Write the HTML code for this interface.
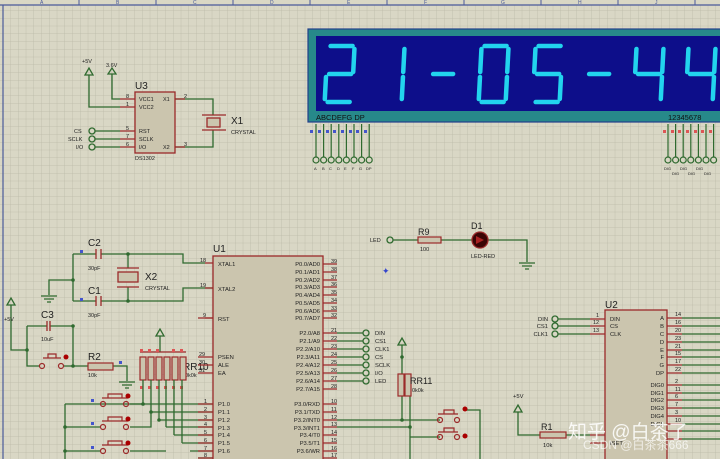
<!DOCTYPE html><html><head><meta charset="utf-8"><style>
html,body{margin:0;padding:0;width:720px;height:459px;overflow:hidden;background:#d9d7c5}
svg{display:block}
text{font-family:"Liberation Sans","Noto Sans CJK SC",sans-serif}
</style></head><body>
<svg width="720" height="459" viewBox="0 0 720 459" xmlns="http://www.w3.org/2000/svg">
<defs>
<pattern id="g" width="7.75" height="7.75" patternUnits="userSpaceOnUse" x="3" y="3">
<path d="M7.75 0V7.75H0" fill="none" stroke="#bcbaa8" stroke-width="0.8"/></pattern>
<g id="seg"></g>
</defs>
<rect width="720" height="459" fill="#d9d7c5"/>
<rect width="720" height="459" fill="url(#g)"/>
<!-- rulers -->
<rect x="0" y="0" width="720" height="5" fill="#d9d7c5"/>
<line x1="0" y1="5" x2="720" y2="5" stroke="#4a5a9a" stroke-width="1.2"/>
<line x1="3" y1="5" x2="3" y2="459" stroke="#4a5a9a" stroke-width="1.2"/>
<g stroke="#4a5a9a" stroke-width="1"><line x1="79" y1="0" x2="79" y2="5"/><line x1="156" y1="0" x2="156" y2="5"/><line x1="233" y1="0" x2="233" y2="5"/><line x1="310" y1="0" x2="310" y2="5"/><line x1="387" y1="0" x2="387" y2="5"/><line x1="464" y1="0" x2="464" y2="5"/><line x1="541" y1="0" x2="541" y2="5"/><line x1="618" y1="0" x2="618" y2="5"/><line x1="695" y1="0" x2="695" y2="5"/></g>
<g font-size="5" fill="#4a5a9a"><text x="40" y="4">A</text><text x="116" y="4">B</text><text x="193" y="4">C</text><text x="270" y="4">D</text><text x="347" y="4">E</text><text x="424" y="4">F</text><text x="501" y="4">G</text><text x="578" y="4">H</text><text x="655" y="4">J</text></g>

<!-- ===== U3 DS1302 ===== -->
<g stroke="#2f6a2f" stroke-width="1.3" fill="none">
<path d="M89 75V107H120"/><path d="M112 74V99H120"/>
<path d="M95 131H120M95 139H120M95 147H120"/>
<path d="M175 99H213V115M175 147H213V130"/>
</g>
<g stroke="#2f6a2f" stroke-width="1.3" fill="none"><path d="M85 75L89 68L93 75Z"/><path d="M108 74L112 68L116 74Z"/>
<circle cx="92" cy="131" r="3"/><circle cx="92" cy="139" r="3"/><circle cx="92" cy="147" r="3"/></g>
<g stroke="#9b2a2a" stroke-width="1.2"><path d="M120 99H135M120 107H135M120 131H135M120 139H135M120 147H135M175 99H185M175 147H185"/></g>
<rect x="135" y="92" width="40" height="61" fill="#cbc5ae" stroke="#9b2a2a" stroke-width="1.3"/>
<g font-size="5.5" fill="#222"><text x="139" y="101">VCC1</text><text x="139" y="109">VCC2</text><text x="139" y="133">RST</text><text x="139" y="141">SCLK</text><text x="139" y="149">I/O</text><text x="163" y="101">X1</text><text x="163" y="149">X2</text>
<text x="126" y="98">8</text><text x="126" y="106">1</text><text x="126" y="130">5</text><text x="126" y="138">7</text><text x="126" y="146">6</text><text x="184" y="98">2</text><text x="184" y="146">3</text>
<text x="82" y="63">+5V</text><text x="106" y="67">3.6V</text><text x="74" y="133">CS</text><text x="68" y="141">SCLK</text><text x="76" y="149">I/O</text><text x="135" y="160">DS1302</text><text x="231" y="134">CRYSTAL</text></g>
<text x="135" y="89" font-size="10" fill="#222">U3</text><text x="231" y="124" font-size="10" fill="#222">X1</text>
<g stroke="#9b2a2a" stroke-width="1.3"><path d="M202 115H226M202 130H226"/></g>
<rect x="207" y="118" width="13" height="9" fill="#cbc5ae" stroke="#9b2a2a" stroke-width="1.3"/>

<!-- ===== DISPLAY ===== -->
<rect x="308" y="29" width="414" height="93" fill="#27898a" stroke="#233f8a" stroke-width="1.2"/>
<rect x="316" y="36" width="406" height="75" fill="#0d0e8a"/>
<g stroke="#22d4ee" stroke-width="4.5" stroke-linecap="round" fill="none" transform="skewX(-3)">
<!-- 2 -->
<g transform="translate(330,46)"><path d="M3 0H25M27 3V26M3 28H25M0 31V53M3 56H25"/></g>
<!-- 1 -->
<g transform="translate(380,46)"><path d="M27 3V26M27 31V53"/></g>
<!-- - -->
<g transform="translate(434,46)"><path d="M3 28H23"/></g>
<!-- 0 -->
<g transform="translate(484,46)"><path d="M3 0H25M27 3V26M27 31V53M3 56H25M0 31V53M0 3V26"/></g>
<!-- 5 -->
<g transform="translate(538,46)"><path d="M3 0H25M0 3V26M3 28H25M27 31V53M3 56H25"/></g>
<!-- - -->
<g transform="translate(590,46)"><path d="M3 28H23"/></g>
<!-- 4 -->
<g transform="translate(639,46)"><path d="M0 3V26M3 28H25M27 3V26M27 31V53"/></g>
<g transform="translate(691,46)"><path d="M0 3V26M3 28H25M27 3V26M27 31V53"/></g>
</g>
<text x="316" y="120" font-size="7.5" fill="#111">ABCDEFG DP</text>
<text x="668" y="120" font-size="7.5" fill="#111">12345678</text>
<g stroke="#2f6a2f" stroke-width="1.2" fill="none">
<path d="M316 124V157M323.6 124V157M331.2 124V157M338.8 124V157M346.4 124V157M354 124V157M361.6 124V157M369.2 124V157"/>
<circle cx="316" cy="160" r="3"/><circle cx="323.6" cy="160" r="3"/><circle cx="331.2" cy="160" r="3"/><circle cx="338.8" cy="160" r="3"/><circle cx="346.4" cy="160" r="3"/><circle cx="354" cy="160" r="3"/><circle cx="361.6" cy="160" r="3"/><circle cx="369.2" cy="160" r="3"/>
<path d="M668 124V157M675.6 124V157M683.2 124V157M690.8 124V157M698.4 124V157M706 124V157M713.6 124V157"/>
<circle cx="668" cy="160" r="3"/><circle cx="675.6" cy="160" r="3"/><circle cx="683.2" cy="160" r="3"/><circle cx="690.8" cy="160" r="3"/><circle cx="698.4" cy="160" r="3"/><circle cx="706" cy="160" r="3"/><circle cx="713.6" cy="160" r="3"/>
</g>
<g fill="#4455cc"><rect x="310" y="130" width="3" height="3"/><rect x="318" y="130" width="3" height="3"/><rect x="326" y="130" width="3" height="3"/><rect x="333" y="130" width="3" height="3"/><rect x="341" y="130" width="3" height="3"/><rect x="349" y="130" width="3" height="3"/><rect x="356" y="130" width="3" height="3"/><rect x="364" y="130" width="3" height="3"/></g>
<g fill="#dd5555"><rect x="663" y="130" width="3" height="3"/><rect x="671" y="130" width="3" height="3"/><rect x="678" y="130" width="3" height="3"/><rect x="686" y="130" width="3" height="3"/><rect x="694" y="130" width="3" height="3"/><rect x="701" y="130" width="3" height="3"/><rect x="709" y="130" width="3" height="3"/></g>
<g font-size="4" fill="#222"><text x="314" y="170">A</text><text x="322" y="170">B</text><text x="329" y="170">C</text><text x="337" y="170">D</text><text x="344" y="170">E</text><text x="352" y="170">F</text><text x="359" y="170">G</text><text x="366" y="170">DP</text>
<text x="664" y="170">DIG</text><text x="672" y="175">DIG</text><text x="680" y="170">DIG</text><text x="688" y="175">DIG</text><text x="696" y="170">DIG</text><text x="704" y="175">DIG</text></g>

<!-- ===== LED / R9 ===== -->
<g stroke="#2f6a2f" stroke-width="1.3" fill="none"><circle cx="390" cy="240" r="3"/><path d="M393 240H418M441 240H472M488 240H527V262"/><path d="M519 263H535M522 266H532M525 269H529"/></g>
<rect x="418" y="237" width="23" height="6" fill="#cbc5ae" stroke="#9b2a2a" stroke-width="1.2"/>
<circle cx="480" cy="240" r="8" fill="#3a0505" stroke="#9b2a2a" stroke-width="1.3"/><path d="M476 236V244L484 240Z" fill="#aa2222"/>
<g font-size="5.5" fill="#222"><text x="370" y="242">LED</text><text x="420" y="251">100</text><text x="471" y="258">LED-RED</text></g>
<g font-size="9" fill="#222"><text x="418" y="235">R9</text><text x="471" y="229">D1</text></g>
<text x="382" y="274" font-size="9" fill="#3344cc">✦</text>

<!-- ===== C2/C1/X2 ===== -->
<g stroke="#2f6a2f" stroke-width="1.3" fill="none">
<path d="M73 254H96M101 254H183V263H205"/>
<path d="M73 301H96M101 301H183V288H213"/>
<path d="M73 254V301M73 280H49V295"/><path d="M41 296H57M44 299H54M47 302H51"/>
<path d="M128 254V268M128 287V301"/>
<path d="M11 305V350H27M27 326H47M50 326H73V366M27 326V366H40M64 366H88M113 366H127V381"/><path d="M119 382H135M122 385H132M125 388H129"/>
<path d="M160 336V352"/>
</g>
<g stroke="#2f6a2f" stroke-width="1.3" fill="none"><path d="M7 305L11 298L15 305Z"/><path d="M156 336L160 329L164 336Z"/></g>
<g stroke="#9b2a2a" stroke-width="1.3"><path d="M96 249V259M101 249V259M96 296V306M101 296V306M47 321V331M50 321V331M117 268H139M117 287H139M205 263H213M205 288H213M205 318H213"/></g>
<rect x="118" y="272" width="20" height="10" fill="#cbc5ae" stroke="#9b2a2a" stroke-width="1.3"/>
<g font-size="10" fill="#222"><text x="88" y="246">C2</text><text x="88" y="294">C1</text><text x="41" y="318">C3</text><text x="145" y="280">X2</text><text x="88" y="360">R2</text><text x="183" y="370">RR10</text><text x="213" y="252">U1</text></g>
<g font-size="5.5" fill="#222"><text x="88" y="270">30pF</text><text x="88" y="317">30pF</text><text x="41" y="341">10uF</text><text x="145" y="290">CRYSTAL</text><text x="88" y="377">10k</text><text x="185" y="377">0k0k</text><text x="4" y="321">+5V</text></g>
<rect x="88" y="363" width="25" height="7" fill="#cbc5ae" stroke="#9b2a2a" stroke-width="1.2"/>
<!-- button near C3 -->
<g stroke="#9b2a2a" stroke-width="1.2" fill="none"><path d="M43 358H61M48 358V354H56V358"/><circle cx="42" cy="366" r="2.5"/><circle cx="61" cy="366" r="2.5"/></g>
<circle cx="66" cy="357" r="2.5" fill="#a00"/>
<!-- RR10 pack -->
<g fill="#cbc5ae" stroke="#9b2a2a" stroke-width="1.2"><rect x="140" y="357" width="6" height="23"/><rect x="148" y="357" width="6" height="23"/><rect x="156" y="357" width="6" height="23"/><rect x="164" y="357" width="6" height="23"/><rect x="172" y="357" width="6" height="23"/><rect x="180" y="357" width="6" height="23"/></g>
<path d="M140 352H186" stroke="#9b2a2a" stroke-width="1.2"/>
<g fill="#dd5555"><rect x="140" y="349" width="3" height="3"/><rect x="148" y="349" width="3" height="3"/><rect x="156" y="349" width="3" height="3"/><rect x="172" y="349" width="3" height="3"/><rect x="180" y="349" width="3" height="3"/><rect x="140" y="386" width="3" height="3"/><rect x="148" y="386" width="3" height="3"/><rect x="156" y="386" width="3" height="3"/><rect x="164" y="386" width="3" height="3"/><rect x="172" y="386" width="3" height="3"/><rect x="180" y="386" width="3" height="3"/></g>
<g stroke="#2f6a2f" stroke-width="1.3" fill="none">
<path d="M143 380V404M151 380V412M159 380V420M166 380V427M174 380V435M182 380V443"/>
<path d="M65 404H213M151 412H213M159 420H213M166 427H213M174 435H213M182 443H213M190 451H213M198 458H213"/>
<path d="M65 404V459M65 427H100M65 451H100M130 404H143M130 427H151V412M130 451H166"/>
</g>
<g fill="#2f6a2f"><circle cx="143" cy="404" r="1.8"/><circle cx="151" cy="412" r="1.8"/><circle cx="159" cy="420" r="1.8"/><circle cx="65" cy="427" r="1.8"/><circle cx="65" cy="451" r="1.8"/><circle cx="73" cy="326" r="1.8"/><circle cx="73" cy="366" r="1.8"/><circle cx="27" cy="350" r="1.8"/><circle cx="73" cy="280" r="1.8"/><circle cx="128" cy="254" r="1.8"/><circle cx="128" cy="301" r="1.8"/></g>
<g stroke="#9b2a2a" stroke-width="1.2" fill="none">
<path d="M102 398H128M108 398V394H122V398"/><circle cx="103" cy="404" r="2.5"/><circle cx="126" cy="404" r="2.5"/>
<path d="M102 421H128M108 421V417H122V421"/><circle cx="103" cy="427" r="2.5"/><circle cx="126" cy="427" r="2.5"/>
<path d="M102 445H128M108 445V441H122V445"/><circle cx="103" cy="451" r="2.5"/><circle cx="126" cy="451" r="2.5"/>
</g>
<g fill="#a00"><circle cx="128" cy="396" r="2.5"/><circle cx="128" cy="419" r="2.5"/><circle cx="128" cy="443" r="2.5"/></g>
<g fill="#4455cc"><rect x="91" y="399" width="3" height="3"/><rect x="91" y="422" width="3" height="3"/><rect x="91" y="446" width="3" height="3"/><rect x="80" y="250" width="3" height="3"/><rect x="80" y="298" width="3" height="3"/><rect x="119" y="361" width="3" height="3"/></g>

<!-- ===== U1 ===== -->
<g stroke="#9b2a2a" stroke-width="1.2">
<path d="M198 318H213M198 357H213M198 365H213M198 373H213M198 404H213M198 412H213M198 420H213M198 427H213M198 435H213M198 443H213M198 451H213M198 458H213"/>
<path d="M323 264H337M323 272H337M323 280H337M323 287H337M323 295H337M323 303H337M323 311H337M323 318H337"/>
<path d="M323 333H337M323 341H337M323 349H337M323 357H337M323 365H337M323 373H337M323 381H337M323 389H337"/>
<path d="M323 404H337M323 412H337M323 420H337M323 427H337M323 435H337M323 443H337M323 451H337M323 458H337"/>
</g>
<rect x="213" y="256" width="110" height="210" fill="#cbc5ae" stroke="#9b2a2a" stroke-width="1.3"/>
<g font-size="5.8" fill="#222">
<text x="218" y="266">XTAL1</text><text x="218" y="291">XTAL2</text><text x="218" y="321">RST</text><text x="218" y="359">PSEN</text><text x="218" y="367">ALE</text><text x="218" y="375">EA</text>
<text x="218" y="406">P1.0</text><text x="218" y="414">P1.1</text><text x="218" y="422">P1.2</text><text x="218" y="430">P1.3</text><text x="218" y="437">P1.4</text><text x="218" y="445">P1.5</text><text x="218" y="453">P1.6</text>
<g text-anchor="end"><text x="320" y="266">P0.0/AD0</text><text x="320" y="274">P0.1/AD1</text><text x="320" y="282">P0.2/AD2</text><text x="320" y="289">P0.3/AD3</text><text x="320" y="297">P0.4/AD4</text><text x="320" y="305">P0.5/AD5</text><text x="320" y="313">P0.6/AD6</text><text x="320" y="320">P0.7/AD7</text>
<text x="320" y="335">P2.0/A8</text><text x="320" y="343">P2.1/A9</text><text x="320" y="351">P2.2/A10</text><text x="320" y="359">P2.3/A11</text><text x="320" y="367">P2.4/A12</text><text x="320" y="375">P2.5/A13</text><text x="320" y="383">P2.6/A14</text><text x="320" y="391">P2.7/A15</text>
<text x="320" y="406">P3.0/RXD</text><text x="320" y="414">P3.1/TXD</text><text x="320" y="422">P3.2/INT0</text><text x="320" y="430">P3.3/INT1</text><text x="320" y="437">P3.4/T0</text><text x="320" y="445">P3.5/T1</text><text x="320" y="453">P3.6/WR</text></g>
<g font-size="5.5"><text x="200" y="262">18</text><text x="200" y="287">19</text><text x="203" y="317">9</text><text x="199" y="356">29</text><text x="199" y="364">30</text><text x="199" y="372">31</text>
<text x="204" y="403">1</text><text x="204" y="411">2</text><text x="204" y="419">3</text><text x="204" y="426">4</text><text x="204" y="434">5</text><text x="204" y="442">6</text><text x="204" y="450">7</text><text x="204" y="457">8</text>
<text x="331" y="263">39</text><text x="331" y="271">38</text><text x="331" y="279">37</text><text x="331" y="286">36</text><text x="331" y="294">35</text><text x="331" y="302">34</text><text x="331" y="310">33</text><text x="331" y="317">32</text>
<text x="331" y="332">21</text><text x="331" y="340">22</text><text x="331" y="348">23</text><text x="331" y="356">24</text><text x="331" y="364">25</text><text x="331" y="372">26</text><text x="331" y="380">27</text><text x="331" y="388">28</text>
<text x="331" y="403">10</text><text x="331" y="411">11</text><text x="331" y="419">12</text><text x="331" y="426">13</text><text x="331" y="434">14</text><text x="331" y="442">15</text><text x="331" y="450">16</text><text x="331" y="457">17</text></g>
</g>
<!-- P2 terminals -->
<g stroke="#2f6a2f" stroke-width="1.3" fill="none">
<path d="M337 333H363M337 341H363M337 349H363M337 357H363M337 365H363M337 373H363M337 381H363"/>
<circle cx="366" cy="333" r="3"/><circle cx="366" cy="341" r="3"/><circle cx="366" cy="349" r="3"/><circle cx="366" cy="357" r="3"/><circle cx="366" cy="365" r="3"/><circle cx="366" cy="373" r="3"/><circle cx="366" cy="381" r="3"/>
<path d="M337 420H440M337 427H410V459M402 345V420M410 382V437H440M465 410H480V459"/>
<path d="M398 345L402 338L406 345Z"/>
</g>
<g font-size="5.8" fill="#222"><text x="375" y="335">DIN</text><text x="375" y="343">CS1</text><text x="375" y="351">CLK1</text><text x="375" y="359">CS</text><text x="375" y="367">SCLK</text><text x="375" y="375">I/O</text><text x="375" y="383">LED</text></g>
<!-- RR11 -->
<g fill="#cbc5ae" stroke="#9b2a2a" stroke-width="1.2"><rect x="398" y="374" width="6" height="22"/><rect x="405" y="374" width="6" height="22"/></g>
<text x="410" y="384" font-size="9" fill="#222">RR11</text><text x="412" y="392" font-size="5.5" fill="#222">0k0k</text>
<g fill="#2f6a2f"><circle cx="402" cy="357" r="1.8"/><circle cx="402" cy="420" r="1.8"/><circle cx="410" cy="427" r="1.8"/></g>
<g stroke="#9b2a2a" stroke-width="1.2" fill="none">
<path d="M438 414H458M444 414V410H454V414"/><circle cx="440" cy="420" r="2.5"/><circle cx="457" cy="420" r="2.5"/>
<path d="M438 432H458M444 432V428H454V432"/><circle cx="440" cy="437" r="2.5"/><circle cx="457" cy="437" r="2.5"/>
</g>
<g fill="#a00"><circle cx="465" cy="409" r="2.5"/><circle cx="465" cy="436" r="2.5"/></g>

<!-- ===== U2 ===== -->
<g stroke="#2f6a2f" stroke-width="1.3" fill="none">
<circle cx="555" cy="319" r="3"/><circle cx="555" cy="326" r="3"/><circle cx="555" cy="334" r="3"/>
<path d="M558 319H590M558 326H590M558 334H590"/>
<path d="M518 412V435H540M566 435H590"/><path d="M514 412L518 405L522 412Z"/>
<path d="M682 318H720M682 326H720M682 334H720M682 342H720M682 350H720M682 357H720M682 365H720M682 373H720"/>
<path d="M682 385H720M682 393H720M682 400H720M682 408H720M682 416H720M682 424H720M682 431H720M682 439H720"/>
</g>
<g stroke="#9b2a2a" stroke-width="1.2"><path d="M590 319H605M590 326H605M590 334H605M590 435H605M590 443H605"/>
<path d="M667 318H682M667 326H682M667 334H682M667 342H682M667 350H682M667 357H682M667 365H682M667 373H682M667 385H682M667 393H682M667 400H682M667 408H682M667 416H682M667 424H682M667 431H682M667 439H682"/></g>
<rect x="605" y="310" width="62" height="160" fill="#cbc5ae" stroke="#9b2a2a" stroke-width="1.3"/>
<rect x="540" y="432" width="26" height="6" fill="#cbc5ae" stroke="#9b2a2a" stroke-width="1.2"/>
<text x="605" y="308" font-size="10" fill="#222">U2</text><text x="541" y="430" font-size="9" fill="#222">R1</text>
<g font-size="5.8" fill="#222">
<text x="548" y="321" text-anchor="end">DIN</text><text x="548" y="328" text-anchor="end">CS1</text><text x="548" y="336" text-anchor="end">CLK1</text>
<text x="610" y="321">DIN</text><text x="610" y="328">CS</text><text x="610" y="336">CLK</text><text x="610" y="445">ISET</text>
<text x="513" y="398">+5V</text><text x="543" y="447">10k</text>
<g text-anchor="end"><text x="664" y="320">A</text><text x="664" y="328">B</text><text x="664" y="336">C</text><text x="664" y="344">D</text><text x="664" y="352">E</text><text x="664" y="359">F</text><text x="664" y="367">G</text><text x="664" y="375">DP</text>
<text x="664" y="387">DIG0</text><text x="664" y="395">DIG1</text><text x="664" y="402">DIG2</text><text x="664" y="410">DIG3</text><text x="664" y="418">DIG4</text><text x="664" y="426">DIG5</text></g>
<g font-size="5.5"><text x="596" y="317">1</text><text x="593" y="324">12</text><text x="593" y="332">13</text>
<text x="675" y="316">14</text><text x="675" y="324">16</text><text x="675" y="332">20</text><text x="675" y="340">23</text><text x="675" y="348">21</text><text x="675" y="355">15</text><text x="675" y="363">17</text><text x="675" y="371">22</text>
<text x="675" y="383">2</text><text x="675" y="391">11</text><text x="675" y="398">6</text><text x="675" y="406">7</text><text x="675" y="414">3</text><text x="675" y="422">10</text></g>
</g>
<!-- watermark -->
<text x="568" y="438" font-size="19" fill="#ffffff" fill-opacity="0.85">知乎 @白茶了</text>
<text x="583" y="449" font-size="12" fill="#ffffff" fill-opacity="0.7">CSDN @白茶茶666</text>
</svg>
</body></html>
